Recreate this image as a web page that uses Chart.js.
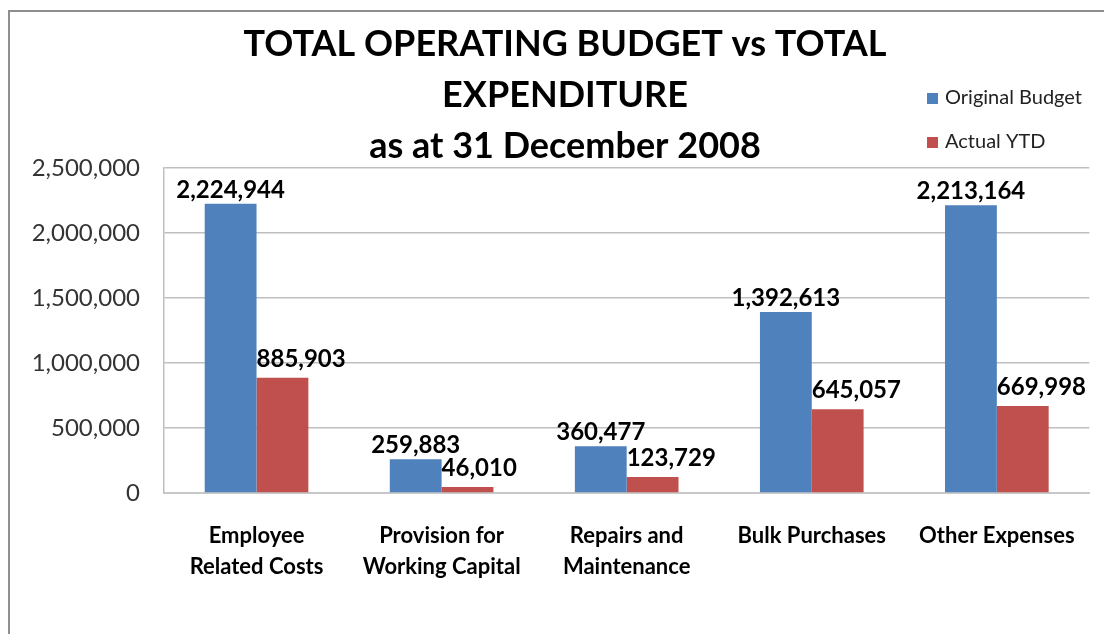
<!DOCTYPE html>
<html>
<head>
<meta charset="utf-8">
<script src="https://cdn.jsdelivr.net/npm/chart.js@4.4.1/dist/chart.umd.min.js"></script>
<style>
  body { margin: 0; background: #fff; overflow: hidden; }
  #frame { position: absolute; left: 8px; top: 10px; width: 1200px; height: 800px; border: 2px solid #8f8f8f; }
  #grafico { position: absolute; left: 0; top: 0; }
</style>
</head>
<body>
<div id="frame"></div>
<canvas id="grafico" width="1104" height="634"></canvas>
<script>
const categorias = [
  ["Employee", "Related Costs"],
  ["Provision for", "Working Capital"],
  ["Repairs and", "Maintenance"],
  "Bulk Purchases",
  "Other Expenses"
];
const orcamentoOriginal = [2224944, 259883, 360477, 1392613, 2213164];
const realizadoYTD = [885903, 46010, 123729, 645057, 669998];
const nomesSeries = ["Original Budget", "Actual YTD"];
const coresSeries = ["#4f81bd", "#c0504d"];
const titulo = ["TOTAL OPERATING BUDGET vs TOTAL", "EXPENDITURE", "as at 31 December 2008"];

const fonte = 'Lato, "Open Sans", sans-serif';

// rótulos de valor acima das barras
const rotulosBarras = {
  id: 'rotulosBarras',
  afterDatasetsDraw(chart) {
    const ctx = chart.ctx;
    ctx.save();
    ctx.font = 'bold 24px ' + fonte;
    ctx.fillStyle = '#000';
    ctx.textBaseline = 'middle';
    chart.data.datasets.forEach((ds, di) => {
      chart.getDatasetMeta(di).data.forEach((bar, i) => {
        const txt = ds.data[i].toLocaleString('en-US');
        if (di === 0) {
          ctx.textAlign = 'center';
          ctx.fillText(txt, bar.x, bar.y - 14);
        } else {
          ctx.textAlign = 'left';
          ctx.fillText(txt, bar.x - bar.width / 2, bar.y - 19);
        }
      });
    });
    ctx.restore();
  }
};

// legenda vertical no canto superior direito
const legendaLateral = {
  id: 'legendaLateral',
  afterLayout(chart) {
    // título um pouco à direita, como no original
    if (chart.titleBlock) chart.titleBlock.left += 14;
  },
  afterDraw(chart) {
    const ctx = chart.ctx;
    ctx.save();
    ctx.font = '20px ' + fonte;
    ctx.textBaseline = 'middle';
    ctx.textAlign = 'left';
    chart.data.datasets.forEach((ds, i) => {
      const y = 98 + i * 44;
      ctx.fillStyle = ds.backgroundColor;
      ctx.fillRect(927, y - 5, 11, 11);
      ctx.fillStyle = '#222';
      ctx.fillText(ds.label, 945, y);
    });
    ctx.restore();
  }
};

const ctx = document.getElementById('grafico').getContext('2d');
new Chart(ctx, {
  type: 'bar',
  data: {
    labels: categorias,
    datasets: [
      { label: nomesSeries[0], data: orcamentoOriginal, backgroundColor: coresSeries[0] },
      { label: nomesSeries[1], data: realizadoYTD, backgroundColor: coresSeries[1] }
    ]
  },
  options: {
    responsive: false,
    animation: false,
    devicePixelRatio: 1,
    layout: { padding: { left: 26, right: 14, top: 0, bottom: 0 } },
    datasets: { bar: { categoryPercentage: 0.56, barPercentage: 1 } },
    plugins: {
      legend: { display: false },
      tooltip: { enabled: false },
      title: {
        display: true,
        text: titulo,
        color: '#000',
        font: { family: fonte, size: 36, weight: 'bold', lineHeight: 1.417 },
        padding: { top: 19, bottom: -4 }
      }
    },
    scales: {
      x: {
        grid: { display: false, drawTicks: false },
        border: { color: '#c8c8c8', width: 2 },
        ticks: {
          color: '#000',
          font: { family: fonte, size: 22, weight: 'bold', lineHeight: 1.4 },
          padding: 28,
          autoSkip: false,
          maxRotation: 0
        },
        afterFit(scale) { scale.height = 141; }
      },
      y: {
        min: 0,
        max: 2500000,
        grid: { color: '#bfbfbf', lineWidth: 1.5, drawTicks: false },
        border: { color: '#bfbfbf', width: 1.5 },
        ticks: {
          stepSize: 500000,
          color: '#333',
          font: { family: fonte, size: 24 },
          padding: 24,
          callback: v => v.toLocaleString('en-US')
        },
        afterFit(scale) { scale.width = 138; }
      }
    }
  },
  plugins: [rotulosBarras, legendaLateral]
});
</script>
</body>
</html>
